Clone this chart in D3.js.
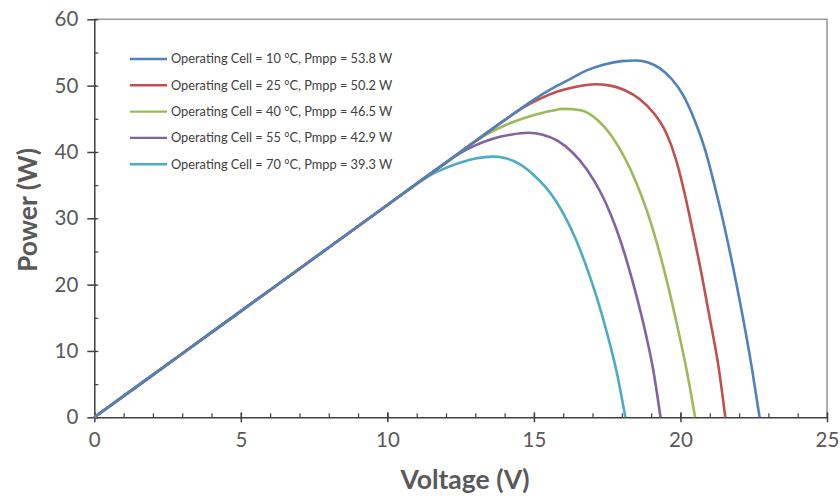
<!DOCTYPE html>
<html>
<head>
<meta charset="utf-8">
<script src="https://cdn.jsdelivr.net/npm/d3@7"></script>
<style>
  html, body { margin: 0; padding: 0; background: #fff; }
  svg { display: block; font-family: Lato, "Open Sans", sans-serif; }
</style>
</head>
<body>
<svg id="chart" width="840" height="496"></svg>
<script>
// P-V curves of a PV module at five operating cell temperatures: [voltage (V), power (W)]
const cell10 = [[0,0],[2,6.4],[4,12.8],[6,19.2],[8,25.6],[10,32],[12,38.4],[14,44.8],[15,47.9],[15.6,49.5],[16.2,50.9],[16.8,52.3],[17.4,53.2],[18.0,53.7],[18.5,53.8],[18.9,53.5],[19.3,52.6],[19.7,51.0],[20.1,48.5],[20.5,44.6],[20.85,40.2],[21.15,35.2],[21.45,29.7],[21.8,22.5],[22.12,15.3],[22.43,7.6],[22.7,0]];
const cell25 = [[0,0],[2,6.4],[4,12.8],[6,19.2],[8,25.6],[10,32],[12,38.4],[14,44.8],[14.6,46.6],[15.2,48.0],[15.8,49.1],[16.4,49.8],[17.1,50.2],[17.6,50.0],[18.1,49.3],[18.6,48.0],[19.1,45.8],[19.5,43.0],[19.85,38.8],[20.15,33.6],[20.4,28.5],[20.72,21.6],[21.02,14.5],[21.3,7.6],[21.53,0]];
const cell40 = [[0,0],[2,6.4],[4,12.8],[6,19.2],[8,25.6],[10,32],[12,38.4],[12.8,41.0],[13.4,42.7],[14.0,44.0],[14.6,45.0],[15.2,45.8],[15.6,46.2],[16.0,46.5],[16.6,46.3],[17.15,44.9],[17.65,42.4],[18.1,39.1],[18.5,35.3],[18.85,31.2],[19.2,26.2],[19.55,20.3],[19.9,13.6],[20.22,6.9],[20.5,0]];
const cell55 = [[0,0],[2,6.4],[4,12.8],[6,19.2],[8,25.6],[10,32],[11.8,37.8],[12.4,39.6],[13.0,41.0],[13.6,42.0],[14.2,42.6],[14.8,42.9],[15.3,42.6],[15.8,41.7],[16.3,40.0],[16.8,37.4],[17.3,33.7],[17.6,30.8],[17.9,27.3],[18.2,23.1],[18.5,18.3],[18.8,12.9],[19.08,6.9],[19.32,0]];
const cell70 = [[0,0],[2,6.4],[4,12.8],[6,19.2],[8,25.6],[10,32],[11.0,35.2],[11.5,36.6],[12.0,37.6],[12.5,38.4],[13.0,39.0],[13.6,39.3],[14.0,39.1],[14.5,38.2],[15.0,36.5],[15.4,34.7],[15.75,32.6],[16.1,29.9],[16.45,26.6],[16.8,22.6],[17.15,18.0],[17.5,12.6],[17.82,6.9],[18.12,0]];

const seriesData = [cell10, cell25, cell40, cell55, cell70];
const seriesNames = [
  "Operating Cell = 10 °C, Pmpp = 53.8 W",
  "Operating Cell = 25 °C, Pmpp = 50.2 W",
  "Operating Cell = 40 °C, Pmpp = 46.5 W",
  "Operating Cell = 55 °C, Pmpp = 42.9 W",
  "Operating Cell = 70 °C, Pmpp = 39.3 W"
];
const seriesColors = ["#4F81BD", "#C0504D", "#9BBB59", "#8064A2", "#4BACC6"];

const xTicks = [0, 5, 10, 15, 20, 25];
const yTicks = [0, 10, 20, 30, 40, 50, 60];
const xMinorTicks = d3.range(0, 26, 1);
const yMinorTicks = d3.range(0, 61, 5);

(function drawChart() {
  const svg = d3.select("#chart");
  const plotLeft = 94.3, plotRight = 827, plotTop = 19.3, plotBottom = 417.3;

  const x = d3.scaleLinear().domain([0, 25]).range([plotLeft, plotRight]);
  const y = d3.scaleLinear().domain([0, 60]).range([plotBottom, plotTop]);

  // plot frame (top and right edges)
  svg.append("path")
    .attr("d", `M${plotLeft},${plotTop}H${plotRight}V${plotBottom}`)
    .attr("fill", "none").attr("stroke", "#9a9a9a").attr("stroke-width", 1.6);

  // minor ticks, drawn inside the plot area
  const xMinor = svg.append("g").attr("transform", `translate(0,${plotBottom})`)
    .call(d3.axisTop(x).tickValues(xMinorTicks).tickSize(4).tickFormat(""));
  xMinor.select(".domain").remove();
  xMinor.selectAll("line").attr("stroke", "#404040").attr("stroke-width", 1.2);

  const yMinor = svg.append("g").attr("transform", `translate(${plotLeft},0)`)
    .call(d3.axisRight(y).tickValues(yMinorTicks).tickSize(4).tickFormat(""));
  yMinor.select(".domain").remove();
  yMinor.selectAll("line").attr("stroke", "#404040").attr("stroke-width", 1.2);

  // major axes
  const xAxis = svg.append("g").attr("transform", `translate(0,${plotBottom})`)
    .call(d3.axisBottom(x).tickValues(xTicks).tickSizeInner(5).tickSizeOuter(0).tickPadding(10));
  xAxis.selectAll(".tick line").attr("y1", -5).attr("y2", 5);
  xAxis.select(".domain").attr("stroke", "#404040").attr("stroke-width", 1.5);
  xAxis.selectAll(".tick line").attr("stroke", "#404040").attr("stroke-width", 1.5);
  xAxis.selectAll("text").attr("fill", "#595959").style("font-size", "20.5px").style("font-family", "Lato, sans-serif");

  const yAxis = svg.append("g").attr("transform", `translate(${plotLeft},0)`)
    .call(d3.axisLeft(y).tickValues(yTicks).tickSizeInner(7).tickSizeOuter(0).tickPadding(9));
  yAxis.selectAll(".tick line").attr("x1", -7).attr("x2", 2);
  yAxis.select(".domain").attr("stroke", "#404040").attr("stroke-width", 1.5);
  yAxis.selectAll(".tick line").attr("stroke", "#404040").attr("stroke-width", 1.5);
  yAxis.selectAll("text").attr("fill", "#595959").style("font-size", "20.5px").style("font-family", "Lato, sans-serif");

  // curves
  const line = d3.line()
    .x(d => x(d[0]))
    .y(d => y(d[1]))
    .curve(d3.curveMonotoneX);

  svg.append("g").selectAll("path.curve")
    .data(seriesData.map((d, i) => ({ values: d, color: seriesColors[i] })).reverse())
    .join("path")
    .attr("class", "curve")
    .attr("d", d => line(d.values))
    .attr("fill", "none")
    .attr("stroke", d => d.color)
    .attr("stroke-width", 2.6)
    .attr("stroke-linejoin", "round");

  // legend
  const legend = svg.append("g").attr("transform", "translate(130,59)");
  const rows = legend.selectAll("g").data(seriesNames).join("g")
    .attr("transform", (d, i) => `translate(0,${i * 26.3})`);
  rows.append("line")
    .attr("x1", 0).attr("x2", 37).attr("y1", 0).attr("y2", 0)
    .attr("stroke", (d, i) => seriesColors[i]).attr("stroke-width", 2.4);
  rows.append("text")
    .attr("x", 41).attr("y", 0).attr("dy", "0.35em")
    .attr("fill", "#404040")
    .style("font-size", "12.8px")
    .text(d => d);

  // axis titles
  svg.append("text")
    .attr("x", 465).attr("y", 489)
    .attr("text-anchor", "middle")
    .attr("fill", "#595959").style("font-size", "26.5px").style("font-weight", "bold")
    .text("Voltage (V)");

  svg.append("text")
    .attr("transform", "translate(37,210) rotate(-90)")
    .attr("text-anchor", "middle")
    .attr("fill", "#595959").style("font-size", "26.5px").style("font-weight", "bold")
    .text("Power (W)");
})();
</script>
</body>
</html>
